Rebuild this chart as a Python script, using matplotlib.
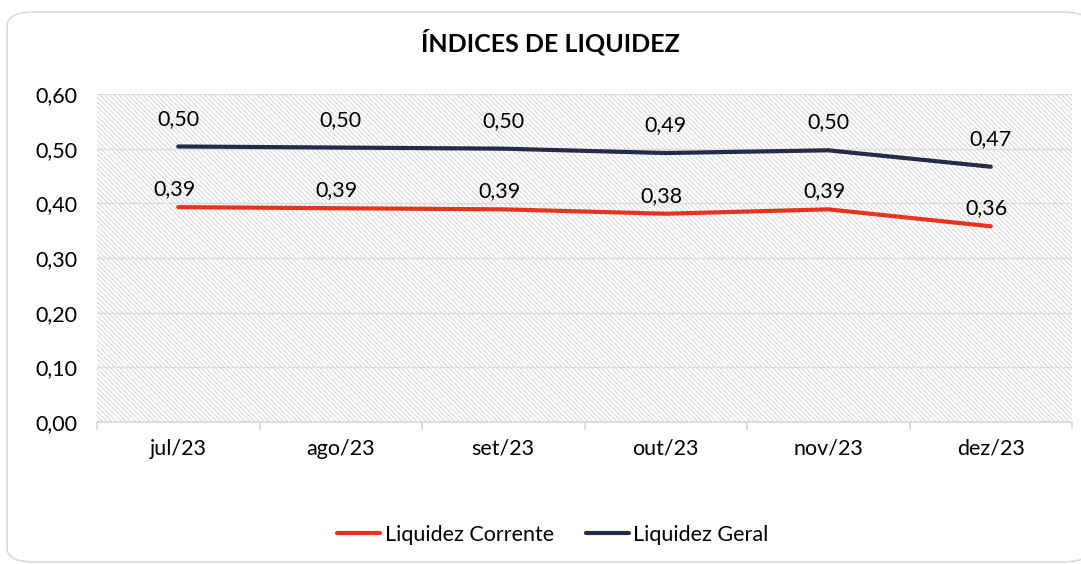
import matplotlib
matplotlib.use("Agg")
import matplotlib.pyplot as plt
from matplotlib.patches import FancyBboxPatch, Rectangle
import numpy as np

plt.rcParams['font.family'] = ['Lato', 'DejaVu Sans']
plt.rcParams['hatch.color'] = '#D6D6D6'
plt.rcParams['hatch.linewidth'] = 0.7

categories = ['jul/23', 'ago/23', 'set/23', 'out/23', 'nov/23', 'dez/23']
liq_corrente = [0.393, 0.391, 0.389, 0.381, 0.389, 0.358]
liq_geral = [0.504, 0.502, 0.500, 0.492, 0.497, 0.467]
lab_corrente = ['0,39', '0,39', '0,39', '0,38', '0,39', '0,36']
lab_geral = ['0,50', '0,50', '0,50', '0,49', '0,50', '0,47']
yticks = [0.0, 0.1, 0.2, 0.3, 0.4, 0.5, 0.6]
ytick_labels = ['0,00', '0,10', '0,20', '0,30', '0,40', '0,50', '0,60']

W, H = 1081, 564
FS = 15.5
fig = plt.figure(figsize=(W/100, H/100), dpi=100)

# rounded outer border
border = FancyBboxPatch((7/W, 2/H), (1090-7)/W, (557-7)/H,
                        boxstyle="round,pad=0,rounding_size=0.025",
                        transform=fig.transFigure, facecolor='white',
                        edgecolor='#D9D9D9', linewidth=1.2, zorder=-5)
fig.patches.append(border)

ax = fig.add_axes([97/W, 1-422/H, (1072-97)/W, (422-94)/H])
ax.set_zorder(2)
ax.patch.set_alpha(0)
x = np.arange(len(categories))
ax.set_xlim(-0.5, len(categories)-0.5)
ax.set_ylim(0, 0.6)

# hatched plot area
ax.add_patch(Rectangle((0, 0), 1, 1, transform=ax.transAxes, facecolor='white',
                       edgecolor='#D6D6D6', hatch='\\' * 7, linewidth=0, zorder=0))

for yv in yticks[1:]:
    ax.axhline(yv, color='#DCDCDC', linewidth=1.0, zorder=1)

ax.plot(x, liq_corrente, color='#E8341C', linewidth=3.0, solid_capstyle='round',
        zorder=3, label='Liquidez Corrente')
ax.plot(x, liq_geral, color='#262B48', linewidth=3.0, solid_capstyle='round',
        zorder=3, label='Liquidez Geral')

for xi, v, l in zip(x, liq_corrente, lab_corrente):
    ax.annotate(l, (xi, v), xytext=(-3, 13), textcoords='offset points',
                ha='center', va='center', fontsize=FS, color='#000000')
for xi, v, l in zip(x, liq_geral, lab_geral):
    ax.annotate(l, (xi, v), xytext=(0, 20), textcoords='offset points',
                ha='center', va='center', fontsize=FS, color='#000000')

ax.set_yticks(yticks)
ax.set_yticklabels(ytick_labels, fontsize=FS)
ax.tick_params(axis='y', length=0, pad=14)
ax.set_xticks(x)
ax.set_xticklabels(categories, fontsize=FS)
ax.tick_params(axis='x', which='major', length=0, pad=12)
ax.set_xticks(np.arange(-0.5, len(categories), 1.0), minor=True)
ax.tick_params(axis='x', which='minor', length=6, color='#D9D9D9', width=1.2)

for s in ['top', 'right', 'left']:
    ax.spines[s].set_visible(False)
ax.spines['bottom'].set_color('#D9D9D9')
ax.spines['bottom'].set_linewidth(1.2)

fig.text(550/W, 1-42/H, 'ÍNDICES DE LIQUIDEZ', ha='center', va='center',
         fontsize=18, fontweight='bold', color='#000000')

leg = fig.legend(loc='center', bbox_to_anchor=(553/W, 1-535/H), ncol=2,
                 frameon=False, fontsize=FS, handlelength=2.0, handletextpad=0.2,
                 columnspacing=1.5)

fig.savefig('out.png', dpi=100)
